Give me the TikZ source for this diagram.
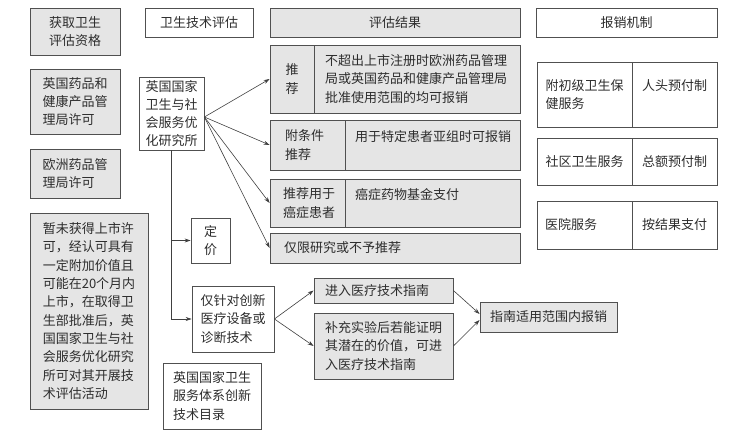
\documentclass[tikz,border=0pt]{standalone}
\usepackage{fontspec}
\newfontfamily\cjk{Noto Sans CJK SC}
\usetikzlibrary{arrows.meta,calc}
\definecolor{grayC}{RGB}{229,229,229}
\definecolor{lineC}{RGB}{80,80,80}
\definecolor{textC}{RGB}{45,45,45}
\tikzset{
  box/.style={draw=lineC, line width=0.8pt, inner sep=0pt, align=left, text=textC,
    font=\cjk\fontsize{13pt}{18.3pt}\selectfont},
  gbox/.style={box, fill=grayC},
  wbox/.style={box, fill=white},
  arr/.style={draw=lineC!80!black, line width=0.6pt, -{Stealth[length=6pt,width=4pt]}},
  ln/.style={draw=lineC!80!black, line width=0.6pt}
}
\begin{document}
\begin{tikzpicture}[x=1pt,y=-1pt]
\useasboundingbox (0,0) rectangle (729,436);
% headers
\node[gbox, minimum width=90pt, minimum height=47pt] (h1) at (75,31.5) {获取卫生\\评估资格};
\node[wbox, minimum width=108pt, minimum height=29pt] (h2) at (199,22.5) {卫生技术评估};
\node[gbox, minimum width=250pt, minimum height=29pt] (h3) at (395,22.5) {评估结果};
\node[wbox, minimum width=181pt, minimum height=29pt] (h4) at (626.5,22.5) {报销机制};
% left column
\node[gbox, minimum width=90pt, minimum height=65pt] (l1) at (75,101.5) {英国药品和\\健康产品管\\理局许可};
\node[gbox, minimum width=90pt, minimum height=49pt] (l2) at (75,173.5) {欧洲药品管\\理局许可};
\node[gbox, minimum width=118pt, minimum height=196pt] (l3) at (89,311) {暂未获得上市许\\可，经认可具有\\一定附加价值且\\可能在20个月内\\上市，在取得卫\\生部批准后，英\\国国家卫生与社\\会服务优化研究\\所可对其开展技\\术评估活动};
% middle column
\node[wbox, minimum width=65pt, minimum height=73pt] (yj) at (171.5,113.5) {英国国家\\卫生与社\\会服务优\\化研究所};
\node[wbox, minimum width=39pt, minimum height=45pt, align=center] (dj) at (210.5,240.5) {定\\价};
\node[wbox, minimum width=82pt, minimum height=66pt] (cx) at (233,319) {仅针对创新\\医疗设备或\\诊断技术};
\node[wbox, minimum width=98pt, minimum height=66pt] (ml) at (212,396) {英国国家卫生\\服务体系创新\\技术目录};
% results
\node[gbox, minimum width=44pt, minimum height=68pt, align=center] (r1a) at (292,79) {推\\荐};
\node[gbox, minimum width=206pt, minimum height=68pt, text width=184pt] (r1b) at (417,79) {不超出上市注册时欧洲药品管理\\局或英国药品和健康产品管理局\\批准使用范围的均可报销};
\node[gbox, minimum width=75pt, minimum height=50pt, text width=45pt] (r2a) at (307.5,145) {附条件\\推荐};
\node[gbox, minimum width=175pt, minimum height=50pt, text width=155pt] (r2b) at (432.5,145) {用于特定患者亚组时可报销\\\mbox{}};
\node[gbox, minimum width=75pt, minimum height=48pt, text width=49pt] (r3a) at (307.5,203) {推荐用于\\癌症患者};
\node[gbox, minimum width=175pt, minimum height=48pt, text width=155pt] (r3b) at (432.5,203) {癌症药物基金支付\\\mbox{}};
\node[gbox, minimum width=250pt, minimum height=30pt, text width=222pt] (r4) at (395,248) {仅限研究或不予推荐};
% guidance
\node[gbox, minimum width=139pt, minimum height=25pt, text width=117pt] (g1) at (383.5,290.5) {进入医疗技术指南};
\node[gbox, minimum width=139pt, minimum height=66pt, text width=117pt] (g2) at (383.5,346) {补充实验后若能证明\\其潜在的价值，可进\\入医疗技术指南};
\node[gbox, minimum width=137pt, minimum height=30pt, text width=117pt] (zn) at (548.5,317) {指南适用范围内报销};
% payment
\node[wbox, minimum width=95pt, minimum height=65pt] (p1a) at (584.5,94.5) {附初级卫生保\\健服务};
\node[wbox, minimum width=85pt, minimum height=65pt] (p1b) at (674.5,94.5) {人头预付制\\\mbox{}};
\node[wbox, minimum width=95pt, minimum height=47pt] (p2a) at (584.5,161.5) {社区卫生服务};
\node[wbox, minimum width=85pt, minimum height=47pt] (p2b) at (674.5,161.5) {总额预付制};
\node[wbox, minimum width=95pt, minimum height=48pt, text width=79pt] (p3a) at (584.5,225) {医院服务};
\node[wbox, minimum width=85pt, minimum height=48pt] (p3b) at (674.5,225) {按结果支付};
% connectors
\coordinate (fan) at ($(yj.east)+(0,3.5)$);
\draw[arr] (fan) -- (r1a.west);
\draw[arr] (fan) -- (r2a.west);
\draw[arr] (fan) -- (r3a.west);
\draw[arr] (fan) -- (r4.west);
\draw[arr] (yj.south) |- (cx.west);
\draw[arr] (yj.south |- dj.west) -- (dj.west);
\draw[arr] (cx.east) -- (g1.west);
\draw[arr] (cx.east) -- (g2.west);
\draw[arr] (g1.east) -- ($(zn.west)+(0,-3)$);
\draw[arr] (g2.east) -- ($(zn.west)+(0,3)$);
\end{tikzpicture}
\end{document}
